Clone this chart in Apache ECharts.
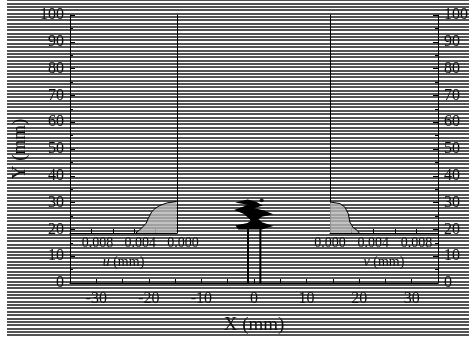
<!DOCTYPE html>
<html><head><meta charset="utf-8">
<script src="https://cdn.jsdelivr.net/npm/echarts@6/dist/echarts.min.js"></script>
<style>html,body{margin:0;padding:0;background:#fff}#c{width:473px;height:340px}</style>
</head><body><div id="c"></div>
<script>
// ---- data ----
const xTickLabels = [-30, -20, -10, 0, 10, 20, 30];
const yTickLabels = [0, 10, 20, 30, 40, 50, 60, 70, 80, 90, 100];
const insetTickLabels = ['0.000', '0.004', '0.008'];
// u displacement profile (left inset): Y (mm) vs u (mm)
const uY   = [19.96, 21.2, 23.4, 25.3, 27.7, 28.9, 30.1, 31.0, 31.6];
const uVal = [0.00385, 0.00347, 0.00291, 0.00269, 0.00238, 0.00207, 0.0016, 0.00097, 0.00003];
// v displacement profile (right inset)
const vY   = [20.0, 21.0, 21.9, 24.0, 27.1, 29.5, 30.8, 31.4];
const vVal = [0.0027, 0.00252, 0.00215, 0.00184, 0.00169, 0.00138, 0.00092, 0.0];
// central deformed body outline (X mm, Y mm)
const blobX = [0.32, 1.30, -0.44, 1.84, 3.20, 1.46, 0.70, 1.46, 3.20, 1.46,
               -2.90, -3.30, -1.20, -0.44, -0.82, -1.95, -3.40, -1.95, -0.82, -2.90, -1.20];
const blobY = [30.1, 29.0, 27.9, 26.8, 25.7, 25.0, 23.9, 22.4, 21.3, 20.2,
               20.2, 21.3, 22.1, 23.2, 24.3, 26.1, 27.2, 28.3, 29.4, 30.1, 30.9];
const pileX = [-1.14, 1.21];
const pileY = [0, 20.6];
const dotX = [1.46];
const dotY = [30.9];

const FONT = 'Liberation Serif';
const chart = echarts.init(document.getElementById('c'), null, {renderer: 'canvas'});

const insetLabelFmt = v => {
  const k = Math.round(v * 1000);
  const s = (k / 1000).toFixed(3);
  return insetTickLabels.indexOf(s) >= 0 ? s : '';
};

const option = {
  animation: false,
  backgroundColor: '#fff',
  grid: [
    {left: 70, right: 35, top: 15, bottom: 53},        // main
    {left: 7, right: 4, top: 0, bottom: 5},            // background stripes
    {left: 70, right: 296, top: 15, bottom: 107},      // u inset
    {left: 330, right: 35, top: 15, bottom: 107}       // v inset
  ],
  xAxis: [
    {gridIndex: 0, type: 'value', min: -35, max: 35, interval: 5, z: 3,
     axisLine: {show: true, onZero: false, lineStyle: {color: '#000', width: 1}},
     axisTick: {show: true, inside: true, length: 4, lineStyle: {color: '#000'}},
     axisLabel: {fontFamily: FONT, fontSize: 16, color: '#111', margin: 8,
       formatter: v => xTickLabels.indexOf(v) >= 0 ? String(v) : ''},
     splitLine: {show: false},
     name: 'X (mm)', nameLocation: 'middle', nameGap: 33,
     nameTextStyle: {fontFamily: FONT, fontSize: 19, color: '#111'}},
    {gridIndex: 1, type: 'value', min: 0, max: 1, show: false},
    {gridIndex: 2, type: 'value', min: 0, max: 0.01, interval: 0.002, inverse: true, z: 3,
     axisLine: {show: true, onZero: false, lineStyle: {color: '#000'}},
     axisTick: {show: true, inside: true, length: 4, lineStyle: {color: '#000'}},
     axisLabel: {fontFamily: FONT, fontSize: 14, color: '#111', margin: 3, padding: [0, 0, 0, 12],
       formatter: insetLabelFmt},
     splitLine: {show: false},
     name: '{i|u} (mm)', nameLocation: 'middle', nameGap: 19,
     nameTextStyle: {fontFamily: FONT, fontSize: 14, color: '#111',
       rich: {i: {fontFamily: FONT, fontSize: 14, fontStyle: 'italic', color: '#111'}}}},
    {gridIndex: 3, type: 'value', min: 0, max: 0.01, interval: 0.002, z: 3,
     axisLine: {show: true, onZero: false, lineStyle: {color: '#000'}},
     axisTick: {show: true, inside: true, length: 4, lineStyle: {color: '#000'}},
     axisLabel: {fontFamily: FONT, fontSize: 14, color: '#111', margin: 3, formatter: insetLabelFmt},
     splitLine: {show: false},
     name: '{i|v} (mm)', nameLocation: 'middle', nameGap: 21,
     nameTextStyle: {fontFamily: FONT, fontSize: 14, color: '#111',
       rich: {i: {fontFamily: FONT, fontSize: 14, fontStyle: 'italic', color: '#111'}}}}
  ],
  yAxis: [
    {gridIndex: 0, type: 'value', min: 0, max: 100, interval: 10, position: 'left', z: 3,
     axisLine: {show: true, onZero: false, lineStyle: {color: '#000'}},
     axisTick: {show: true, inside: true, length: 5, lineStyle: {color: '#000'}},
     minorTick: {show: true, splitNumber: 2, length: 3, lineStyle: {color: '#000'}},
     axisLabel: {fontFamily: FONT, fontSize: 16, color: '#111', margin: 6,
       formatter: v => yTickLabels.indexOf(v) >= 0 ? String(v) : ''},
     splitLine: {show: false},
     name: 'Y (mm)', nameLocation: 'middle', nameGap: 39, nameRotate: 90,
     nameTextStyle: {fontFamily: FONT, fontSize: 19, color: '#111'}},
    {gridIndex: 0, type: 'value', min: 0, max: 100, interval: 10, position: 'right', z: 3,
     axisLine: {show: true, onZero: false, lineStyle: {color: '#000'}},
     axisTick: {show: true, inside: true, length: 5, lineStyle: {color: '#000'}},
     minorTick: {show: true, splitNumber: 2, length: 3, lineStyle: {color: '#000'}},
     axisLabel: {fontFamily: FONT, fontSize: 16, color: '#111', margin: 6,
       formatter: v => yTickLabels.indexOf(v) >= 0 ? String(v) : ''},
     splitLine: {show: false}},
    {gridIndex: 1, type: 'value', min: 0, max: 100, interval: 1, z: 0,
     axisLine: {show: false}, axisTick: {show: false}, axisLabel: {show: false},
     splitLine: {show: true, lineStyle: {color: '#1a1a1a', width: 1.6}}},
    {gridIndex: 2, type: 'value', min: 20, max: 100, position: 'right', z: 3,
     axisLine: {show: true, onZero: false, lineStyle: {color: '#000'}},
     axisTick: {show: false}, axisLabel: {show: false}, splitLine: {show: false}},
    {gridIndex: 3, type: 'value', min: 20, max: 100, position: 'left', z: 3,
     axisLine: {show: true, onZero: false, lineStyle: {color: '#000'}},
     axisTick: {show: false}, axisLabel: {show: false}, splitLine: {show: false}}
  ],
  series: [
    {type: 'line', xAxisIndex: 2, yAxisIndex: 3, symbol: 'none', z: 4,
     data: uVal.map((u, i) => [u, uY[i]]),
     lineStyle: {color: '#000', width: 1},
     areaStyle: {color: '#b4b4b4', opacity: 0.8, origin: 'start'}},
    {type: 'line', xAxisIndex: 3, yAxisIndex: 4, symbol: 'none', z: 4,
     data: vVal.map((v, i) => [v, vY[i]]),
     lineStyle: {color: '#000', width: 1},
     areaStyle: {color: '#b4b4b4', opacity: 0.8, origin: 'start'}},
    {type: 'custom', xAxisIndex: 0, yAxisIndex: 0, z: 4,
     data: [[blobX[0], blobY[0]]],
     renderItem: (params, api) => ({
       type: 'polygon',
       shape: {points: blobX.map((x, i) => api.coord([x, blobY[i]]))},
       style: {fill: '#000', stroke: '#000', lineWidth: 1.5}
     })},
    ...pileX.map(px => ({
      type: 'line', xAxisIndex: 0, yAxisIndex: 0, symbol: 'none', z: 4,
      data: pileY.map(py => [px, py]),
      lineStyle: {color: '#000', width: 2}
    })),
    {type: 'scatter', xAxisIndex: 0, yAxisIndex: 0, z: 4, symbolSize: 4,
     data: dotX.map((x, i) => [x, dotY[i]]), itemStyle: {color: '#000'}}
  ]
};
chart.setOption(option);
</script>
</body></html>
